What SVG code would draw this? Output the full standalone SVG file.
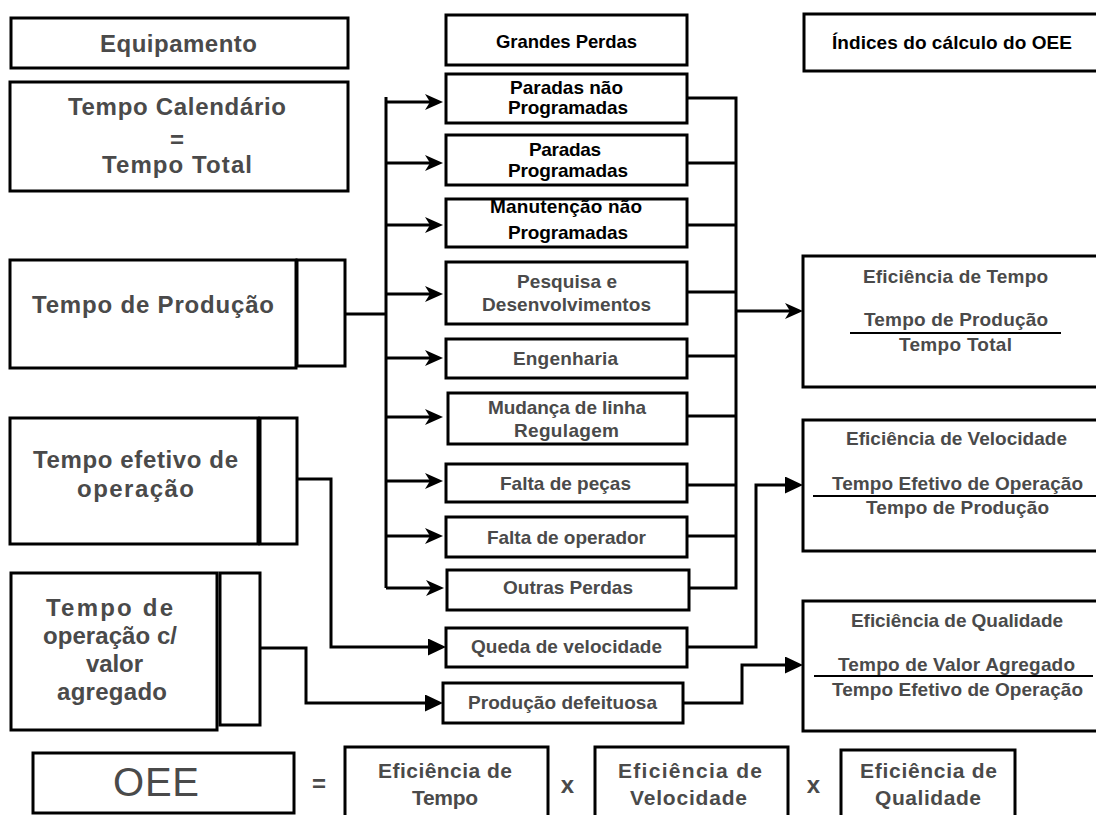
<svg xmlns="http://www.w3.org/2000/svg" width="1096" height="815" viewBox="0 0 1096 815">
  <style>
    .box { fill: #fff; stroke: #000; stroke-width: 3; }
    .wire { fill: none; stroke: #000; stroke-width: 3; }
    .bar { stroke: #000; stroke-width: 2; }
    text { font-family: "Liberation Sans", Arial, Helvetica, sans-serif; font-weight: bold; text-anchor: middle; fill: #4a4a4a; }
    .big { font-size: 24px; }
    .mid { font-size: 19px; }
    .hd { font-size: 18.5px; }
    .ix { font-size: 19px; }
    .eq { font-size: 21px; }
    .sign { font-size: 24px; }
    .dark { fill: #000; }
    .oee { font-size: 40px; font-weight: normal; }
  </style>
  <defs>
    <!-- swept arrowhead used on the loss bus -->
    <marker id="barb" markerUnits="userSpaceOnUse" markerWidth="20" markerHeight="18" refX="8" refY="8" orient="auto">
      <path d="M0,0 L18,8 L0,16 L5,8 Z" fill="#000"/>
    </marker>
    <!-- solid triangular arrowhead -->
    <marker id="tri" markerUnits="userSpaceOnUse" markerWidth="20" markerHeight="18" refX="8" refY="8.5" orient="auto">
      <path d="M0,0 L18,8.5 L0,17 Z" fill="#000"/>
    </marker>
  </defs>

  <rect width="1096" height="815" fill="#fff"/>

  <!-- connectors -->
  <g id="connectors">
    <!-- Tempo de Produção feeds the loss bus -->
    <path class="wire" d="M342,314 H386"/>
    <path class="wire" d="M386,97 V588"/>
    <path class="wire" marker-end="url(#barb)" d="M386,102 H433"/>
    <path class="wire" marker-end="url(#barb)" d="M386,163 H433"/>
    <path class="wire" marker-end="url(#barb)" d="M386,225 H433"/>
    <path class="wire" marker-end="url(#barb)" d="M386,294 H433"/>
    <path class="wire" marker-end="url(#barb)" d="M386,358 H433"/>
    <path class="wire" marker-end="url(#barb)" d="M386,417 H433"/>
    <path class="wire" marker-end="url(#barb)" d="M386,481 H433"/>
    <path class="wire" marker-end="url(#barb)" d="M386,536 H433"/>
    <path class="wire" marker-end="url(#barb)" d="M386,588 H434"/>
    <!-- losses collected on the right bus -->
    <path class="wire" d="M687,98 H736 V588 H689"/>
    <path class="wire" d="M687,163 H736"/>
    <path class="wire" d="M687,225 H736"/>
    <path class="wire" d="M687,292 H736"/>
    <path class="wire" d="M687,356 H736"/>
    <path class="wire" d="M687,416 H736"/>
    <path class="wire" d="M687,485 H736"/>
    <path class="wire" d="M687,536 H736"/>
    <path class="wire" marker-end="url(#barb)" d="M736,311 H793"/>
    <!-- effective operating time -->
    <path class="wire" marker-end="url(#tri)" d="M297,479 H331 V647 H436"/>
    <path class="wire" marker-end="url(#tri)" d="M687,647 H756 V485 H793"/>
    <!-- value-added operating time -->
    <path class="wire" marker-end="url(#tri)" d="M258,648 H306 V703 H433"/>
    <path class="wire" marker-end="url(#tri)" d="M683,703 H742 V665 H793"/>
  </g>

  <!-- left column: equipment times -->
  <g id="equipamento">
    <rect class="box" x="11" y="18" width="337" height="50"/>
    <text class="big" x="178.5" y="52" textLength="157" lengthAdjust="spacing">Equipamento</text>
  </g>
  <g id="tempo-calendario">
    <rect class="box" x="10" y="82" width="338" height="109"/>
    <text class="big" x="177" y="115" textLength="218" lengthAdjust="spacing">Tempo Calendário</text>
    <text class="big" x="177" y="148">=</text>
    <text class="big" x="177" y="173" textLength="150" lengthAdjust="spacing">Tempo Total</text>
  </g>
  <g id="tempo-producao">
    <rect class="box" x="10" y="260" width="286" height="108"/>
    <rect class="box" x="297" y="260" width="48" height="106"/>
    <text class="big" x="153" y="313" textLength="242" lengthAdjust="spacing">Tempo de Produção</text>
  </g>
  <g id="tempo-efetivo">
    <rect class="box" x="10" y="418" width="248" height="126"/>
    <rect class="box" x="260" y="418" width="37" height="126"/>
    <text class="big" x="135.5" y="468" textLength="205" lengthAdjust="spacing">Tempo efetivo de</text>
    <text class="big" x="135.5" y="497" textLength="117" lengthAdjust="spacing">operação</text>
  </g>
  <g id="tempo-valor-agregado">
    <rect class="box" x="11" y="573" width="206" height="157"/>
    <rect class="box" x="220" y="573" width="40" height="152"/>
    <text class="big" x="109.5" y="616" textLength="127" lengthAdjust="spacing">Tempo de</text>
    <text class="big" x="110" y="644" textLength="134" lengthAdjust="spacing">operação c/</text>
    <text class="big" x="114.5" y="672" textLength="57" lengthAdjust="spacing">valor</text>
    <text class="big" x="112" y="700" textLength="110" lengthAdjust="spacing">agregado</text>
  </g>

  <!-- middle column: the big losses -->
  <g id="grandes-perdas">
    <rect class="box" x="446" y="15" width="241" height="50"/>
    <text class="hd dark" x="566.5" y="48" textLength="141" lengthAdjust="spacing">Grandes Perdas</text>
  </g>
  <g id="paradas-nao-programadas">
    <rect class="box" x="446" y="74" width="241" height="49"/>
    <text class="mid dark" x="566.5" y="94" textLength="113" lengthAdjust="spacing">Paradas não</text>
    <text class="mid dark" x="568" y="114" textLength="120" lengthAdjust="spacing">Programadas</text>
  </g>
  <g id="paradas-programadas">
    <rect class="box" x="446" y="135" width="241" height="50"/>
    <text class="mid dark" x="565" y="156" textLength="72" lengthAdjust="spacing">Paradas</text>
    <text class="mid dark" x="568" y="177" textLength="120" lengthAdjust="spacing">Programadas</text>
  </g>
  <g id="manutencao">
    <rect class="box" x="446" y="199" width="241" height="48"/>
    <text class="mid dark" x="566" y="213" textLength="152" lengthAdjust="spacing">Manutenção não</text>
    <text class="mid dark" x="568" y="239" textLength="120" lengthAdjust="spacing">Programadas</text>
  </g>
  <g id="pesquisa">
    <rect class="box" x="446" y="262" width="241" height="62"/>
    <text class="mid" x="567" y="288" textLength="100" lengthAdjust="spacing">Pesquisa e</text>
    <text class="mid" x="566.5" y="311" textLength="169" lengthAdjust="spacing">Desenvolvimentos</text>
  </g>
  <g id="engenharia">
    <rect class="box" x="446" y="339" width="241" height="39"/>
    <text class="mid" x="565.5" y="365" textLength="105" lengthAdjust="spacing">Engenharia</text>
  </g>
  <g id="mudanca-linha">
    <rect class="box" x="448" y="393" width="239" height="51"/>
    <text class="mid" x="567" y="414" textLength="158" lengthAdjust="spacing">Mudança de linha</text>
    <text class="mid" x="566.5" y="437" textLength="105" lengthAdjust="spacing">Regulagem</text>
  </g>
  <g id="falta-pecas">
    <rect class="box" x="446" y="464" width="241" height="38"/>
    <text class="mid" x="565.5" y="490" textLength="131" lengthAdjust="spacing">Falta de peças</text>
  </g>
  <g id="falta-operador">
    <rect class="box" x="446" y="517" width="241" height="40"/>
    <text class="mid" x="566.5" y="544" textLength="159" lengthAdjust="spacing">Falta de operador</text>
  </g>
  <g id="outras-perdas">
    <rect class="box" x="447" y="570" width="242" height="40"/>
    <text class="mid" x="568" y="594" textLength="130" lengthAdjust="spacing">Outras Perdas</text>
  </g>
  <g id="queda-velocidade">
    <rect class="box" x="446" y="628" width="241" height="39"/>
    <text class="mid" x="566.5" y="653" textLength="191" lengthAdjust="spacing">Queda de velocidade</text>
  </g>
  <g id="producao-defeituosa">
    <rect class="box" x="443" y="683" width="240" height="40"/>
    <text class="mid" x="562.5" y="709" textLength="189" lengthAdjust="spacing">Produção defeituosa</text>
  </g>

  <!-- right column: OEE indices -->
  <g id="indices">
    <rect class="box" x="804" y="14" width="300" height="57"/>
    <text class="ix dark" x="952" y="49" textLength="240" lengthAdjust="spacing">Índices do cálculo do OEE</text>
  </g>
  <g id="eficiencia-tempo">
    <rect class="box" x="803" y="256" width="300" height="131"/>
    <text class="ix" x="955.5" y="283" textLength="185" lengthAdjust="spacing">Eficiência de Tempo</text>
    <text class="ix" x="956" y="326" textLength="184" lengthAdjust="spacing">Tempo de Produção</text>
    <line class="bar" x1="850" y1="333" x2="1061" y2="333"/>
    <text class="ix" x="955.5" y="351" textLength="113" lengthAdjust="spacing">Tempo Total</text>
  </g>
  <g id="eficiencia-velocidade">
    <rect class="box" x="803" y="420" width="300" height="131"/>
    <text class="ix" x="956.5" y="445" textLength="221" lengthAdjust="spacing">Eficiência de Velocidade</text>
    <text class="ix" x="957.5" y="490" textLength="251" lengthAdjust="spacing">Tempo Efetivo de Operação</text>
    <line class="bar" x1="813" y1="496" x2="1100" y2="496"/>
    <text class="ix" x="957.5" y="514" textLength="183" lengthAdjust="spacing">Tempo de Produção</text>
  </g>
  <g id="eficiencia-qualidade">
    <rect class="box" x="803" y="601" width="300" height="130"/>
    <text class="ix" x="957" y="627" textLength="212" lengthAdjust="spacing">Eficiência de Qualidade</text>
    <text class="ix" x="956.5" y="671" textLength="237" lengthAdjust="spacing">Tempo de Valor Agregado</text>
    <line class="bar" x1="814" y1="676" x2="1093" y2="676"/>
    <text class="ix" x="957.5" y="696" textLength="251" lengthAdjust="spacing">Tempo Efetivo de Operação</text>
  </g>

  <!-- bottom row: OEE equation -->
  <g id="oee">
    <rect class="box" x="33" y="753" width="261" height="60"/>
    <text class="oee" x="156" y="796" textLength="86" lengthAdjust="spacing">OEE</text>
  </g>
  <g id="equation-signs">
    <text class="sign" x="319" y="792">=</text>
    <text class="sign" x="567.5" y="793">x</text>
    <text class="sign" x="813.5" y="793">x</text>
  </g>
  <g id="termo-tempo">
    <rect class="box" x="345" y="747" width="203" height="80"/>
    <text class="eq" x="445" y="778" textLength="134" lengthAdjust="spacing">Eficiência de</text>
    <text class="eq" x="445" y="805" textLength="66" lengthAdjust="spacing">Tempo</text>
  </g>
  <g id="termo-velocidade">
    <rect class="box" x="595" y="747" width="193" height="80"/>
    <text class="eq" x="690" y="778" textLength="144" lengthAdjust="spacing">Eficiência de</text>
    <text class="eq" x="688.5" y="805" textLength="117" lengthAdjust="spacing">Velocidade</text>
  </g>
  <g id="termo-qualidade">
    <rect class="box" x="841" y="750" width="174" height="80"/>
    <text class="eq" x="928.5" y="778" textLength="137" lengthAdjust="spacing">Eficiência de</text>
    <text class="eq" x="928" y="805" textLength="106" lengthAdjust="spacing">Qualidade</text>
  </g>
</svg>
